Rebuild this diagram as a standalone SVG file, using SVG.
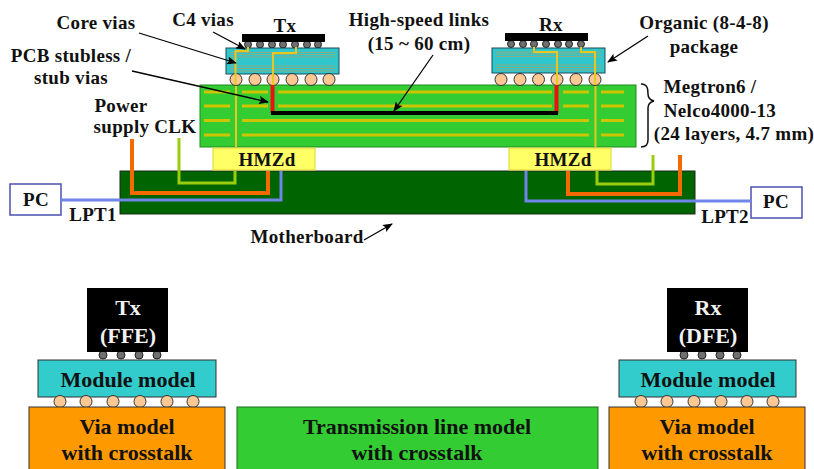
<svg xmlns="http://www.w3.org/2000/svg" width="814" height="469" viewBox="0 0 814 469">
<style>
text{font-family:"Liberation Serif","Times New Roman",serif;font-weight:bold;fill:#111;text-anchor:middle}
.s{font-size:19px;letter-spacing:.3px}
.b{font-size:22px}
.w{fill:#f2f2f2}
.pkg{fill:#2fc6cc;stroke:#1c4a5a;stroke-width:1}
.ball{fill:#fdc894;stroke:#333;stroke-width:1}
.bump{fill:#707070;stroke:#222;stroke-width:1}
.chip{fill:#000}
.tr{stroke:#cfc400;stroke-width:3;fill:none}
.ptr{stroke:#c89a50;stroke-width:.8;opacity:.75;fill:none}
.via{stroke:#e8c820;stroke-width:2;fill:none}
.hm{fill:#ffff66;stroke:#d8d830;stroke-width:1}
.pc{fill:#fff;stroke:#4a50b0;stroke-width:1.500}
.or{stroke:#f56a00;stroke-width:4;fill:none}
.gr{stroke:#9acd10;stroke-width:3;fill:none}
.bl{stroke:#6f85ea;stroke-width:3;fill:none}
.ar{stroke:#000;stroke-width:1.300;fill:none;marker-end:url(#a)}
.via2{fill:#ff9900;stroke:#333;stroke-width:1}
.mod{fill:#33cccc;stroke:#333;stroke-width:1}
</style>
<defs><marker id="a" markerWidth="10" markerHeight="8" refX="9" refY="4" orient="auto" markerUnits="userSpaceOnUse"><path d="M0 0L10 4L0 8L2 4Z" fill="#000"/></marker></defs>

<g id="motherboard"><rect x="120" y="171" width="575" height="43" fill="#006400" stroke="#1c2a1c"/></g>
<g id="pcb">
<rect x="200" y="85" width="436" height="62" fill="#33cc33" stroke="#1f8a1f"/>
<path class="tr" d="M204 92H230M242 92H268M278 92H552M563 92H589M601 92H624M204 106H230M242 106H268M278 106H552M563 106H589M601 106H624M204 120.500H230M242 120.500H589M601 120.500H624M204 135H230M242 135H589M601 135H624"/>
<path class="via" d="M236 85V147M595.500 85V147"/>
</g>
<g id="hmzd-left"><rect class="hm" x="213" y="148" width="102" height="22"/><text class="s" x="267" y="166">HMZd</text></g>
<g id="hmzd-right"><rect class="hm" x="509" y="148" width="102" height="22"/><text class="s" x="563" y="166">HMZd</text></g>

<g id="tx-package">
<g class="bump"><circle cx="248" cy="44.500" r="3.500"/><circle cx="260" cy="44.500" r="3.500"/><circle cx="272" cy="44.500" r="3.500"/><circle cx="283" cy="44.500" r="3.500"/><circle cx="295" cy="44.500" r="3.500"/><circle cx="307" cy="44.500" r="3.500"/><circle cx="318" cy="44.500" r="3.500"/></g>
<rect class="chip" x="242" y="34" width="83" height="8"/>
<rect class="pkg" x="226" y="48" width="113" height="26"/>
<path class="ptr" d="M230 52.500H335M230 54.500H335M230 57H335M230 66H335M230 68.500H335M230 71H335"/>
<g class="ball"><circle cx="236" cy="79.500" r="6"/><circle cx="255" cy="79.500" r="6"/><circle cx="273" cy="79.500" r="6"/><circle cx="292" cy="79.500" r="6"/><circle cx="311" cy="79.500" r="6"/><circle cx="329" cy="79.500" r="6"/></g>
<path class="via" d="M248 47V51H235.500V85M296 47V53H273V85"/>
<text class="s" x="285" y="32">Tx</text>
</g>
<g id="rx-package">
<g class="bump"><circle cx="511" cy="44" r="3.500"/><circle cx="523" cy="44" r="3.500"/><circle cx="534" cy="44" r="3.500"/><circle cx="546" cy="44" r="3.500"/><circle cx="558" cy="44" r="3.500"/><circle cx="569" cy="44" r="3.500"/><circle cx="581" cy="44" r="3.500"/></g>
<rect class="chip" x="505" y="33" width="83" height="8"/>
<rect class="pkg" x="492" y="48" width="113" height="25"/>
<path class="ptr" d="M496 52H601M496 54H601M496 56.500H601M496 65H601M496 67.500H601M496 70H601"/>
<g class="ball"><circle cx="501" cy="79.500" r="6"/><circle cx="520" cy="79.500" r="6"/><circle cx="538.500" cy="79.500" r="6"/><circle cx="557" cy="79.500" r="6"/><circle cx="576" cy="79.500" r="6"/><circle cx="595" cy="79.500" r="6"/></g>
<path class="via" d="M534 47V52H557V85M581 47V52H595V85"/>
<text class="s" x="551" y="31">Rx</text>
</g>
<g id="pc-left"><rect class="pc" x="10" y="184" width="51" height="31"/><text class="s" x="36" y="206">PC</text></g>
<g id="pc-right"><rect class="pc" x="751" y="187" width="51" height="31"/><text class="s" x="776" y="208">PC</text></g>

<g id="connectors">
<path d="M272.500 85V113M556.500 85V113" stroke="#ee1111" stroke-width="4" fill="none"/>
<path d="M271 113H558" stroke="#000" stroke-width="4" fill="none"/>
<path class="or" d="M132 139V193H268V171"/>
<path class="gr" d="M179 138V183H235V171"/>
<path class="bl" d="M61 200H281V171"/>
<path class="or" d="M568 171V194H680V155"/>
<path class="gr" d="M597 171V184H653V155"/>
<path class="bl" d="M526 171V201H751"/>
<path class="ar" d="M139 33L236 63"/>
<path class="ar" d="M213 32L245 49"/>
<path class="ar" d="M132 71L268 102"/>
<path class="ar" d="M433 55L394 111"/>
<path class="ar" d="M648 36L608 62"/>
<path class="ar" d="M364 240L392 224"/>
<path d="M641 84C648 84 648 90 648 94C648 98 650 100 654 101C650 102 648 104 648 108V140C648 145 646 147 641 147" stroke="#111" stroke-width="1.500" fill="none"/>
</g>

<g id="labels">
<text class="s" x="96" y="29">Core vias</text>
<text class="s" x="203" y="26">C4 vias</text>
<text class="s" x="71" y="62">PCB stubless /</text>
<text class="s" x="71" y="84">stub vias</text>
<text class="s" x="121" y="112">Power</text>
<text class="s" x="145" y="133">supply CLK</text>
<text class="s" x="419" y="26">High-speed links</text>
<text class="s" x="419" y="50">(15 ~ 60 cm)</text>
<text class="s" x="704" y="29">Organic (8-4-8)</text>
<text class="s" x="704" y="53">package</text>
<text class="s" x="710" y="93">Megtron6 /</text>
<text class="s" x="720" y="117">Nelco4000-13</text>
<text class="s" x="734" y="140">(24 layers, 4.7 mm)</text>
<text class="s" x="93" y="221">LPT1</text>
<text class="s" x="725" y="223">LPT2</text>
<text class="s" x="307" y="243">Motherboard</text>
</g>

<g id="tx-model">
<g class="bump"><circle cx="103" cy="355" r="4"/><circle cx="121" cy="355" r="4"/><circle cx="139" cy="355" r="4"/><circle cx="157" cy="355" r="4"/></g>
<rect class="chip" x="87" y="288" width="81" height="64"/>
<text class="b w" x="128" y="315">Tx</text><text class="b w" x="128" y="343">(FFE)</text>
</g>
<g id="tx-module"><rect class="mod" x="38" y="360" width="178" height="37"/><text class="b" x="128" y="387">Module model</text>
<g class="ball"><circle cx="60" cy="401.500" r="6"/><circle cx="86" cy="401.500" r="6"/><circle cx="113" cy="401.500" r="6"/><circle cx="140" cy="401.500" r="6"/><circle cx="167" cy="401.500" r="6"/><circle cx="193" cy="401.500" r="6"/></g></g>
<g id="tx-via"><rect class="via2" x="29" y="407" width="196" height="63"/><text class="b" x="127" y="434">Via model</text><text class="b" x="127" y="460">with crosstalk</text></g>
<g id="tl-model"><rect x="237" y="407" width="361" height="63" fill="#33cc33" stroke="#1f6a1f"/><text class="b" x="417" y="434">Transmission line model</text><text class="b" x="417" y="460">with crosstalk</text></g>
<g id="rx-model">
<g class="bump"><circle cx="684" cy="355" r="4"/><circle cx="702" cy="355" r="4"/><circle cx="720" cy="355" r="4"/><circle cx="737" cy="355" r="4"/></g>
<rect class="chip" x="667" y="288" width="81" height="64"/>
<text class="b w" x="708" y="315">Rx</text><text class="b w" x="708" y="343">(DFE)</text>
</g>
<g id="rx-module"><rect class="mod" x="619" y="360" width="177" height="37"/><text class="b" x="708" y="387">Module model</text>
<g class="ball"><circle cx="641" cy="401.500" r="6"/><circle cx="667" cy="401.500" r="6"/><circle cx="694" cy="401.500" r="6"/><circle cx="721" cy="401.500" r="6"/><circle cx="747" cy="401.500" r="6"/><circle cx="773" cy="401.500" r="6"/></g></g>
<g id="rx-via"><rect class="via2" x="609" y="407" width="196" height="63"/><text class="b" x="707" y="434">Via model</text><text class="b" x="707" y="460">with crosstalk</text></g>
</svg>
